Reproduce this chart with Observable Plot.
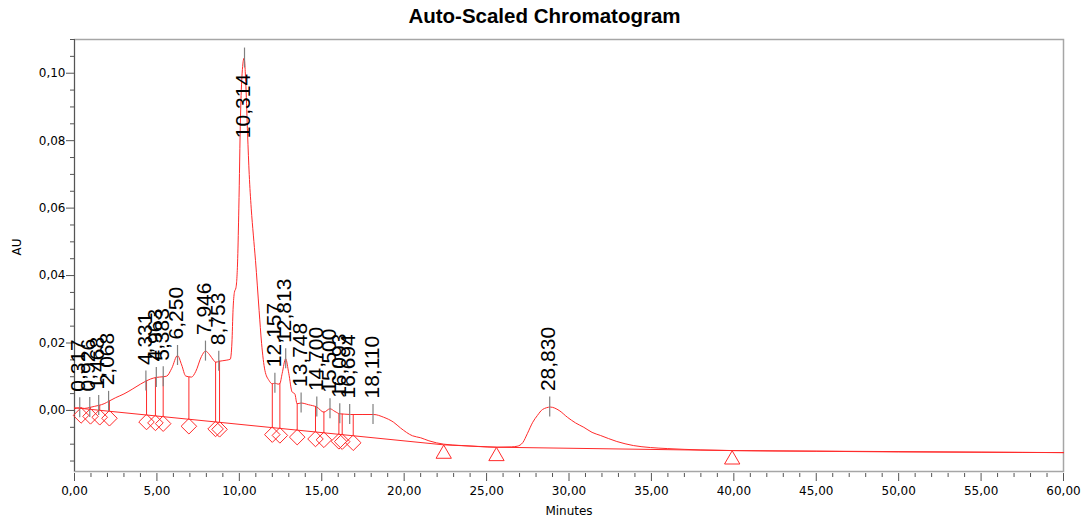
<!DOCTYPE html>
<html><head><meta charset="utf-8">
<script src="https://cdn.jsdelivr.net/npm/d3@7"></script>
<script src="https://cdn.jsdelivr.net/npm/@observablehq/plot@0.6"></script>
<style>
html,body{margin:0;padding:0;background:#fff;}
#title{width:1089px;height:31px;line-height:31px;text-align:center;font-family:"Liberation Sans",Arial,sans-serif;font-weight:bold;font-size:20.5px;color:#000;}
#chart svg{display:block;}
</style></head><body>
<div id="title">Auto-Scaled Chromatogram</div>
<div id="chart"></div>
<script>
// Chromatogram trace (minutes, AU)
const times = [0,0.3,0.6,0.93,1.2,1.47,1.8,2.07,2.5,3.0,3.5,4.0,4.33,4.6,4.96,5.38,5.6,5.9,6.25,6.5,6.75,7.1,7.35,7.7,7.95,8.2,8.45,8.56,8.8,9.2,9.45,
  9.55,9.62,9.7,9.8,9.9,9.97,10.07,10.17,10.29,10.40,10.50,10.60,10.72,10.85,10.98,11.2,11.35,11.55,11.8,12.0,12.16,12.35,12.46,12.6,12.81,13.0,13.2,13.37,13.5,13.75,14.2,14.7,15.13,15.5,15.8,16.1,16.4,16.75,17.5,18.15,18.75,19.36,19.78,20.5,21.0,21.5,22.4,23.5,24.5,25.65,26.5,26.86,27.2,27.47,27.8,28.08,28.4,28.88,29.4,29.9,30.4,30.9,31.4,31.9,32.9,33.9,34.95,35.96,38,40,45,50,55,60];
const au = [0.0005,0.0008,0.0006,0.0009,0.0012,0.0015,0.0020,0.0027,0.0038,0.0049,0.0063,0.0078,0.0087,0.0093,0.0098,0.0100,0.0102,0.0125,0.0163,0.0135,0.0102,0.0099,0.0115,0.0160,0.0176,0.0165,0.0148,0.0143,0.0146,0.0149,0.0152,
  0.0200,0.0300,0.0350,0.0365,0.0450,0.0600,0.0870,0.1000,0.1045,0.0960,0.0820,0.0700,0.0600,0.0520,0.0445,0.0296,0.0199,0.0119,0.0089,0.0079,0.0081,0.0078,0.0080,0.0110,0.0153,0.0110,0.0055,0.0049,0.0020,0.0022,0.0017,0.0010,-0.0005,0.0005,-0.0003,-0.0010,-0.0011,-0.0012,-0.0012,-0.0012,-0.0020,-0.0035,-0.0052,-0.0075,-0.0081,-0.0090,-0.0100,-0.0104,-0.0107,-0.0109,-0.0108,-0.0106,-0.0095,-0.0069,-0.0035,-0.0015,0.0003,0.0010,0.0000,-0.0020,-0.0037,-0.0050,-0.0065,-0.0074,-0.0092,-0.0104,-0.0110,-0.0113,-0.0117,-0.0119,-0.0121,-0.0123,-0.0124,-0.0125];

// Baseline segments
const baseTimes = [0,22.4,25.6,39.9,60];
const baseAU = [0.0008,-0.0102,-0.0109,-0.0119,-0.0125];

// Labelled peaks
const peakLabels = ["0,317","0,926","1,468","2,068","4,331","4,963","5,383","6,250","7,946","8,753","10,314","12,157","12,813","13,748","14,700","15,500","16,093","16,694","18,110","28,830"];
const peakTimes = [0.317,0.926,1.468,2.068,4.331,4.963,5.383,6.250,7.946,8.753,10.314,12.157,12.813,13.748,14.700,15.500,16.093,16.694,18.110,28.830];
const peakAU = [0.0008,0.0009,0.0015,0.0027,0.0087,0.0098,0.0100,0.0163,0.0176,0.0146,0.1045,0.0081,0.0153,0.0022,0.0010,0.0005,-0.0010,-0.0012,-0.0012,0.0010];

// Peak start/end drop lines (diamond markers)
const dropTimes = [0.40,0.97,1.53,2.12,4.37,4.91,5.38,6.94,8.56,8.80,12.00,12.46,13.51,14.62,15.13,16.04,16.24,16.91];
const dropTopAU = [0.0008,0.0009,0.0015,0.0028,0.0088,0.0097,0.0100,0.0099,0.0143,0.0146,0.0079,0.0080,0.0020,0.0012,-0.0005,-0.0010,-0.0011,-0.0012];

// Baseline event markers (triangles)
const triangleTimes = [22.4,25.6,39.9];

// Axes
const xMajor = [0,5,10,15,20,25,30,35,40,45,50,55,60];
const yMajor = [0,0.02,0.04,0.06,0.08,0.10];
const xMinor = d3.range(0,61,1).filter(v => v % 5 !== 0);
const yMinor = d3.range(-3,23,1).map(k => k*0.005).filter(v => Math.abs(v/0.02 - Math.round(v/0.02)) > 1e-6);

const fmt2 = d => d3.format(".2f")(d).replace(".", ",");

const W = 1089, H = 495, mT = 8, mB = 55, mL = 74, mR = 26;
const yDom = [-0.0181, 0.110];
const pxPerUnit = (H - mT - mB) / (yDom[1] - yDom[0]);
const tickHalf = 10 / pxPerUnit;
const LABEL_MAX = 0.076;
const RED = "#ff2a2a";

const baseAt = t => {
  for (let i = 0; i < baseTimes.length - 1; i++) {
    if (t >= baseTimes[i] && t <= baseTimes[i+1]) {
      const f = (t - baseTimes[i]) / (baseTimes[i+1] - baseTimes[i]);
      return baseAU[i] + f * (baseAU[i+1] - baseAU[i]);
    }
  }
  return baseAU[baseAU.length - 1];
};

const trace = times.map((t, i) => ({t, v: au[i]}));
const base = baseTimes.map((t, i) => ({t, v: baseAU[i]}));
const peaks = peakTimes.map((t, i) => ({t, v: peakAU[i], label: peakLabels[i]}));
const drops = dropTimes.map((t, i) => ({t, top: dropTopAU[i], bot: baseAt(t)}));
const tris = triangleTimes.map(t => ({t, v: baseAt(t)}));

const chart = Plot.plot({
  width: W, height: H,
  marginTop: mT, marginBottom: mB, marginLeft: mL, marginRight: mR,
  x: {domain: [0, 60]},
  y: {domain: yDom},
  style: {fontFamily: "DejaVu Sans, sans-serif", fontSize: "12px", color: "#000", background: "#fff", overflow: "visible"},
  marks: [
    Plot.frame({stroke: "#a6a6a6", strokeWidth: 1.5}),
    Plot.ruleX([0], {stroke: "#555", strokeWidth: 1}),
    Plot.axisY(yMajor, {tickSize: 8, tickPadding: 1, tickFormat: fmt2, label: null, stroke: "#555", fill: "#000"}),
    Plot.axisY(yMinor, {tickSize: 4, tickFormat: () => "", label: null, stroke: "#555"}),
    Plot.axisX(xMajor, {tickSize: 8, tickPadding: 5, tickFormat: fmt2, label: null, stroke: "#555", fill: "#000", dy: 2}),
    Plot.axisX(xMinor, {tickSize: 4, tickFormat: () => "", label: null, stroke: "#555", dy: 2}),
    Plot.line(base, {x: "t", y: "v", stroke: RED, strokeWidth: 1}),
    Plot.line(trace, {x: "t", y: "v", stroke: RED, strokeWidth: 1, curve: "monotone-x"}),
    Plot.ruleX(drops, {x: "t", y1: "bot", y2: "top", stroke: RED, strokeWidth: 1}),
    Plot.ruleX(peaks, {x: "t", y1: d => d.v - tickHalf, y2: d => d.v + tickHalf, stroke: "#808080", strokeWidth: 1.2}),
    Plot.text(peaks, {x: "t", y: d => Math.min(d.v, LABEL_MAX), text: "label", rotate: -90, textAnchor: "start", lineAnchor: "middle", dy: -16, dx: -1, fontSize: 21, fontFamily: "Liberation Sans, Arial, sans-serif", fill: "#000"}),
    Plot.dot(drops, {x: "t", y: "bot", symbol: "diamond2", r: 7, stroke: RED, fill: "none", strokeWidth: 1, dy: 7}),
    Plot.dot(tris, {x: "t", y: "v", symbol: "triangle2", r: 7.3, stroke: RED, fill: "none", strokeWidth: 1, dy: 9}),
    Plot.text(["AU"], {frameAnchor: "left", dx: -57, rotate: -90, fontSize: 12, fill: "#000"}),
    Plot.text(["Minutes"], {frameAnchor: "bottom", dy: 43, fontSize: 12, fill: "#000"})
  ]
});
document.getElementById("chart").appendChild(chart);
</script>
</body></html>
